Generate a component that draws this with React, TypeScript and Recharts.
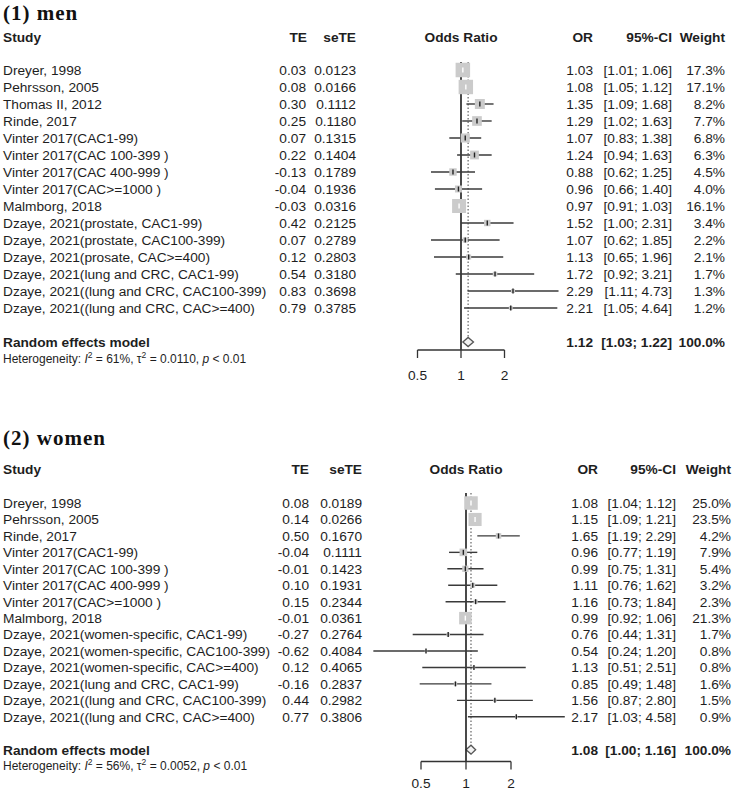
import React from "react";
import {
  ComposedChart,
  Scatter,
  XAxis,
  YAxis,
  ZAxis,
  ErrorBar,
  ReferenceLine,
  ReferenceArea,
} from "recharts";

const FONT = "'Liberation Sans', Arial, Helvetica, sans-serif";
const SERIF = "'Liberation Serif', 'Times New Roman', Times, serif";
const INK = "#1e1e1e";
const W = 733;
const H = 793;
const AXIS_H = 30;
const FS = 13.7;

// ---- (1) men ----
const menStudies = [
  "Dreyer, 1998",
  "Pehrsson, 2005",
  "Thomas II, 2012",
  "Rinde, 2017",
  "Vinter 2017(CAC1-99)",
  "Vinter 2017(CAC 100-399 )",
  "Vinter 2017(CAC 400-999 )",
  "Vinter 2017(CAC>=1000 )",
  "Malmborg, 2018",
  "Dzaye, 2021(prostate, CAC1-99)",
  "Dzaye, 2021(prostate, CAC100-399)",
  "Dzaye, 2021(prosate, CAC>=400)",
  "Dzaye, 2021(lung and CRC, CAC1-99)",
  "Dzaye, 2021((lung and CRC, CAC100-399)",
  "Dzaye, 2021((lung and CRC, CAC>=400)",
];
const menTE = [0.03, 0.08, 0.3, 0.25, 0.07, 0.22, -0.13, -0.04, -0.03, 0.42, 0.07, 0.12, 0.54, 0.83, 0.79];
const menSeTE = [0.0123, 0.0166, 0.1112, 0.118, 0.1315, 0.1404, 0.1789, 0.1936, 0.0316, 0.2125, 0.2789, 0.2803, 0.318, 0.3698, 0.3785];
const menOR = [1.03, 1.08, 1.35, 1.29, 1.07, 1.24, 0.88, 0.96, 0.97, 1.52, 1.07, 1.13, 1.72, 2.29, 2.21];
const menLower = [1.01, 1.05, 1.09, 1.02, 0.83, 0.94, 0.62, 0.66, 0.91, 1.0, 0.62, 0.65, 0.92, 1.11, 1.05];
const menUpper = [1.06, 1.12, 1.68, 1.63, 1.38, 1.63, 1.25, 1.4, 1.03, 2.31, 1.85, 1.96, 3.21, 4.73, 4.64];
const menWeight = [17.3, 17.1, 8.2, 7.7, 6.8, 6.3, 4.5, 4.0, 16.1, 3.4, 2.2, 2.1, 1.7, 1.3, 1.2];
const menPooled = [1.12, 1.03, 1.22]; // OR, lower, upper
const menHet = { i2: "61%", tau2: "0.0110", p: "0.01" };

// ---- (2) women ----
const womenStudies = [
  "Dreyer, 1998",
  "Pehrsson, 2005",
  "Rinde, 2017",
  "Vinter 2017(CAC1-99)",
  "Vinter 2017(CAC 100-399 )",
  "Vinter 2017(CAC 400-999 )",
  "Vinter 2017(CAC>=1000 )",
  "Malmborg, 2018",
  "Dzaye, 2021(women-specific, CAC1-99)",
  "Dzaye, 2021(women-specific, CAC100-399)",
  "Dzaye, 2021(women-specific, CAC>=400)",
  "Dzaye, 2021(lung and CRC, CAC1-99)",
  "Dzaye, 2021((lung and CRC, CAC100-399)",
  "Dzaye, 2021((lung and CRC, CAC>=400)",
];
const womenTE = [0.08, 0.14, 0.5, -0.04, -0.01, 0.1, 0.15, -0.01, -0.27, -0.62, 0.12, -0.16, 0.44, 0.77];
const womenSeTE = [0.0189, 0.0266, 0.167, 0.1111, 0.1423, 0.1931, 0.2344, 0.0361, 0.2764, 0.4084, 0.4065, 0.2837, 0.2982, 0.3806];
const womenOR = [1.08, 1.15, 1.65, 0.96, 0.99, 1.11, 1.16, 0.99, 0.76, 0.54, 1.13, 0.85, 1.56, 2.17];
const womenLower = [1.04, 1.09, 1.19, 0.77, 0.75, 0.76, 0.73, 0.92, 0.44, 0.24, 0.51, 0.49, 0.87, 1.03];
const womenUpper = [1.12, 1.21, 2.29, 1.19, 1.31, 1.62, 1.84, 1.06, 1.31, 1.2, 2.51, 1.48, 2.8, 4.58];
const womenWeight = [25.0, 23.5, 4.2, 7.9, 5.4, 3.2, 2.3, 21.3, 1.7, 0.8, 0.8, 1.6, 1.5, 0.9];
const womenPooled = [1.08, 1.0, 1.16];
const womenHet = { i2: "56%", tau2: "0.0052", p: "0.01" };

const xTicks = [-1, 0, 1]; // log2 of 0.5, 1, 2

type Cols = { study: number; te: number; se: number; or: number; ci: number; wt: number };
type Layout = {
  title: string;
  top: number;
  height: number;
  titleY: number;
  headY: number;
  plotTop: number;
  plotBottom: number;
  yDomain: [number, number];
  nullX: number;
  pxPerLog2: number;
  xDomain: [number, number];
  cols: Cols;
  headCols: { te: number; se: number; or: number; ci: number; wt: number };
  maxSide: number;
  tickMargin: number;
  hetGap: number;
};

const menLayout: Layout = {
  title: "(1) men",
  top: 0,
  height: 395,
  titleY: 13,
  headY: 37,
  plotTop: 62,
  plotBottom: 350,
  yDomain: [-0.47, 16.47],
  nullX: 461,
  pxPerLog2: 43.5,
  xDomain: [-2.3, 2.6],
  cols: { study: 3, te: 306, se: 356, or: 593, ci: 672, wt: 725 },
  headCols: { te: 307, se: 356, or: 593, ci: 672, wt: 725 },
  maxSide: 14.5,
  tickMargin: 12,
  hetGap: 16.5,
};

const womenLayout: Layout = {
  title: "(2) women",
  top: 395,
  height: 398,
  titleY: 438,
  headY: 469,
  plotTop: 493,
  plotBottom: 761.5,
  yDomain: [-0.61, 15.72],
  nullX: 466,
  pxPerLog2: 45,
  xDomain: [-2.3, 2.6],
  cols: { study: 3, te: 309, se: 362, or: 598, ci: 676, wt: 731 },
  headCols: { te: 309, se: 362, or: 598, ci: 676, wt: 731 },
  maxSide: 13.5,
  tickMargin: 9,
  hetGap: 16.5,
};

function buildRows(
  studies: string[],
  te: number[],
  se: number[],
  or: number[],
  lo: number[],
  hi: number[],
  wt: number[]
) {
  return studies.map((study, i) => {
    const x = Math.log2(or[i]);
    return {
      study,
      y: i,
      x,
      err: [x - Math.log2(lo[i]), Math.log2(hi[i]) - x],
      te: te[i],
      se: se[i],
      or: or[i],
      lo: lo[i],
      hi: hi[i],
      w: wt[i],
      big: wt[i] >= 15,
    };
  });
}

function fmtCI(l: number, u: number) {
  return `[${l.toFixed(2)}; ${u.toFixed(2)}]`;
}

function Panel({
  layout,
  rows,
  pooled,
  het,
}: {
  layout: Layout;
  rows: ReturnType<typeof buildRows>;
  pooled: number[];
  het: { i2: string; tau2: string; p: string };
}) {
  const plotLeft = layout.nullX + layout.pxPerLog2 * layout.xDomain[0];
  const plotRight = layout.nullX + layout.pxPerLog2 * layout.xDomain[1];
  const margin = {
    top: layout.plotTop - layout.top,
    bottom: layout.top + layout.height - layout.plotBottom - AXIS_H,
    left: plotLeft,
    right: W - plotRight,
  };
  const poolRow = rows.length + 1;
  const [pOR, pLo, pHi] = pooled;
  const pX = Math.log2(pOR);
  const maxW = Math.max(...rows.map((r) => r.w));
  const c = layout.cols;
  const yTop = layout.yDomain[0];
  const yBottom = layout.yDomain[1];

  const small = rows.filter((r) => !r.big);
  const big = rows.filter((r) => r.big);
  const labelRows = rows.map((r) => ({ ...r, x: 0 }));
  const poolData = [{ x: 0, y: poolRow }];

  const txt = { fontFamily: FONT, fontSize: FS, fill: INK } as const;

  const RowText = (p: any) => {
    const d = p.payload;
    const y = p.cy;
    return (
      <g>
        <text x={c.study} y={y} dy="0.36em" {...txt}>{d.study}</text>
        <text x={c.te} y={y} dy="0.36em" textAnchor="end" {...txt}>{d.te.toFixed(2)}</text>
        <text x={c.se} y={y} dy="0.36em" textAnchor="end" {...txt}>{d.se.toFixed(4)}</text>
        <text x={c.or} y={y} dy="0.36em" textAnchor="end" {...txt}>{d.or.toFixed(2)}</text>
        <text x={c.ci} y={y} dy="0.36em" textAnchor="end" {...txt}>{fmtCI(d.lo, d.hi)}</text>
        <text x={c.wt} y={y} dy="0.36em" textAnchor="end" {...txt}>{`${d.w.toFixed(1)}%`}</text>
      </g>
    );
  };

  const PoolText = (p: any) => {
    const y = p.cy;
    const hy = y + layout.hetGap;
    return (
      <g>
        <text x={c.study} y={y} dy="0.36em" {...txt} fontWeight="bold">Random effects model</text>
        <text x={c.or} y={y} dy="0.36em" textAnchor="end" {...txt} fontWeight="bold">{pOR.toFixed(2)}</text>
        <text x={c.ci} y={y} dy="0.36em" textAnchor="end" {...txt} fontWeight="bold">{fmtCI(pLo, pHi)}</text>
        <text x={c.wt} y={y} dy="0.36em" textAnchor="end" {...txt} fontWeight="bold">100.0%</text>
        <text x={c.study} y={hy} dy="0.36em" fontFamily={FONT} fontSize={12} fill={INK}>
          {"Heterogeneity: "}
          <tspan fontStyle="italic">I</tspan>
          <tspan dy={-5} fontSize={8.5}>2</tspan>
          <tspan dy={5}>{` = ${het.i2}, \u03c4`}</tspan>
          <tspan dy={-5} fontSize={8.5}>2</tspan>
          <tspan dy={5}>{` = ${het.tau2}, `}</tspan>
          <tspan fontStyle="italic">p</tspan>
          <tspan>{` < ${het.p}`}</tspan>
        </text>
      </g>
    );
  };

  const Square = (p: any) => {
    const size = p.size ?? Math.PI * Math.pow((p.width || 0) / 2, 2);
    const s = Math.sqrt(Math.max(size, 0));
    return <rect x={p.cx - s / 2} y={p.cy - s / 2} width={s} height={s} fill="#cbcbcb" />;
  };
  const tickShape = (color: string) => (p: any) => (
    <line x1={p.cx} x2={p.cx} y1={p.cy - 2.5} y2={p.cy + 2.5} stroke={color} strokeWidth={1.4} />
  );

  const Diamond = (p: any) => {
    const { x, y, width, height } = p;
    const frac = (pX - Math.log2(pLo)) / (Math.log2(pHi) - Math.log2(pLo));
    const cx = x + width * frac;
    const cy = y + height / 2;
    return (
      <polygon
        points={`${x},${cy} ${cx},${y} ${x + width},${cy} ${cx},${y + height}`}
        fill="#f2f2f2"
        stroke="#555"
        strokeWidth={1.3}
      />
    );
  };

  return (
    <div style={{ position: "absolute", left: 0, top: layout.top }}>
      <ComposedChart width={W} height={layout.height} margin={margin} style={{ overflow: "visible" }}>
        <XAxis
          type="number"
          dataKey="x"
          domain={layout.xDomain}
          ticks={xTicks}
          interval={0}
          tickFormatter={(v: number) => String(Math.pow(2, v))}
          axisLine={false}
          tickLine={{ stroke: "#333", strokeWidth: 1.3 }}
          tickSize={8}
          tickMargin={layout.tickMargin}
          height={AXIS_H}
          tick={{ fill: INK, fontSize: FS, fontFamily: FONT }}
        />
        <YAxis type="number" dataKey="y" domain={layout.yDomain} reversed hide width={0} />
        <ZAxis type="number" dataKey="w" domain={[0, maxW]} range={[0, layout.maxSide * layout.maxSide]} />
        <ReferenceLine x={0} stroke="#2a2a2a" strokeWidth={1.7} />
        <ReferenceLine
          segment={[
            { x: pX, y: yTop },
            { x: pX, y: poolRow - 0.27 },
          ]}
          stroke="#555"
          strokeWidth={1.1}
          strokeDasharray="1.5 2"
        />
        <ReferenceLine
          segment={[
            { x: -1, y: yBottom },
            { x: 1, y: yBottom },
          ]}
          stroke="#333"
          strokeWidth={1.3}
        />
        <Scatter data={rows} shape={Square} isAnimationActive={false} />
        <Scatter data={small} shape={tickShape("#222")} isAnimationActive={false}>
          <ErrorBar dataKey="err" direction="x" width={0} stroke="#3a3a3a" strokeWidth={1.4} />
        </Scatter>
        <Scatter data={big} shape={tickShape("#ffffff")} isAnimationActive={false}>
          <ErrorBar dataKey="err" direction="x" width={0} stroke="#ffffff" strokeWidth={1.4} />
        </Scatter>
        <ReferenceArea
          x1={Math.log2(pLo)}
          x2={Math.log2(pHi)}
          y1={poolRow - 0.27}
          y2={poolRow + 0.27}
          shape={Diamond}
        />
        <Scatter data={labelRows} shape={RowText} isAnimationActive={false} />
        <Scatter data={poolData} shape={PoolText} isAnimationActive={false} />
      </ComposedChart>
    </div>
  );
}

function Headers({ layout }: { layout: Layout }) {
  const h = layout.headCols;
  const y = layout.headY;
  const b = { fontFamily: FONT, fontSize: FS, fontWeight: "bold", fill: INK } as const;
  return (
    <g>
      <text x={3} y={layout.titleY} dy="0.34em" fontFamily={SERIF} fontSize={21} fontWeight="bold" letterSpacing={1} fill="#111">
        {layout.title}
      </text>
      <text x={layout.cols.study} y={y} dy="0.36em" {...b}>Study</text>
      <text x={h.te} y={y} dy="0.36em" textAnchor="end" {...b}>TE</text>
      <text x={h.se} y={y} dy="0.36em" textAnchor="end" {...b}>seTE</text>
      <text x={layout.nullX} y={y} dy="0.36em" textAnchor="middle" {...b}>Odds Ratio</text>
      <text x={h.or} y={y} dy="0.36em" textAnchor="end" {...b}>OR</text>
      <text x={h.ci} y={y} dy="0.36em" textAnchor="end" {...b}>95%-CI</text>
      <text x={h.wt} y={y} dy="0.36em" textAnchor="end" {...b}>Weight</text>
    </g>
  );
}

export default function App() {
  const menRows = buildRows(menStudies, menTE, menSeTE, menOR, menLower, menUpper, menWeight);
  const womenRows = buildRows(womenStudies, womenTE, womenSeTE, womenOR, womenLower, womenUpper, womenWeight);
  return (
    <div style={{ position: "absolute", left: 0, top: 0, width: W, height: H, background: "#fff", overflow: "hidden" }}>
      <Panel layout={menLayout} rows={menRows} pooled={menPooled} het={menHet} />
      <Panel layout={womenLayout} rows={womenRows} pooled={womenPooled} het={womenHet} />
      <svg width={W} height={H} style={{ position: "absolute", left: 0, top: 0, pointerEvents: "none" }}>
        <Headers layout={menLayout} />
        <Headers layout={womenLayout} />
      </svg>
    </div>
  );
}
